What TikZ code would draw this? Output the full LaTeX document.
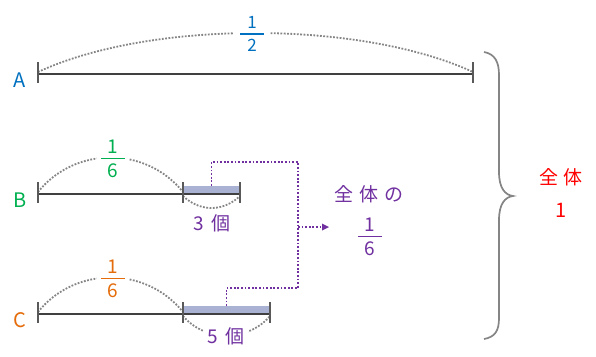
\documentclass[tikz,border=0pt]{standalone}
\usepackage{fontspec}
\setmainfont{Noto Sans CJK JP}
\usetikzlibrary{arrows.meta}
\definecolor{cblue}{HTML}{0070C0}
\definecolor{cgreen}{HTML}{00B050}
\definecolor{corange}{HTML}{E46C0A}
\definecolor{cpurple}{HTML}{7030A0}
\definecolor{cred}{HTML}{FF0000}
\definecolor{cline}{HTML}{404040}
\definecolor{ctick}{HTML}{595959}
\definecolor{carc}{HTML}{858585}
\definecolor{cbox}{HTML}{A9B2D2}
\newcommand\frc[2]{\vbox{\hbox to 24pt{\hss#1\hss}\kern4pt\hrule height1.8pt\kern4.5pt\hbox to 24pt{\hss#2\hss}}}
\tikzset{
  seg/.style={draw=cline, line width=1.7pt},
  tick/.style={draw=ctick, line width=1.7pt},
  arcdot/.style={draw=carc, line width=1.8pt, dash pattern=on 1.8pt off 1.5pt},
  pdot/.style={draw=cpurple, line width=1.8pt, dash pattern=on 1.8pt off 1.8pt},
  shade/.style={fill=cbox, draw=none, inner sep=0pt, minimum height=8pt},
  lbl/.style={font=\fontsize{20}{22}\selectfont, inner sep=1pt, anchor=base},
  cjk/.style={font=\fontsize{19}{22}\selectfont, inner sep=1pt, anchor=base},
  fracnode/.style={font=\fontsize{19}{22}\selectfont, inner sep=2pt, fill=white},
}
\begin{document}
\begin{tikzpicture}[x=1pt,y=-1pt]
\useasboundingbox (0,0) rectangle (596,356);
% coordinates
\coordinate (a0) at (38,74); \coordinate (a1) at (473,74);
\coordinate (b0) at (38,194); \coordinate (bm) at (183,194); \coordinate (b1) at (240,194);
\coordinate (c0) at (38,314); \coordinate (cm) at (183,314); \coordinate (c1) at (270,314);
% shaded boxes
\node[shade, minimum width=57pt] (bbox) at (211.5,190) {};
\node[shade, minimum width=87pt] (cbx) at (226.5,310) {};
% arcs
\draw[arcdot] (38,72) .. controls (150,20) and (360,20) .. (473,72);
\draw[arcdot] (38,192) .. controls (75,146) and (146,146) .. (183,192);
\draw[arcdot] (183,196) .. controls (200,212) and (223,212) .. (240,196);
\draw[arcdot] (38,312) .. controls (75,266) and (146,266) .. (183,312);
\draw[arcdot] (183,316) .. controls (205,342) and (248,342) .. (270,316);
% main segments
\draw[seg] (a0) -- (a1);
\draw[seg] (b0) -- (b1);
\draw[seg] (c0) -- (c1);
\foreach \p in {a0,a1,b0,bm,b1,c0,cm,c1}{
  \draw[tick] ([yshift=-8.5pt]\p) -- ([yshift=12.5pt]\p);
}
% fractions
\node[fracnode, text=cblue, font=\fontsize{17}{20}\selectfont, inner xsep=6pt] (fa) at (252,34) {\frc{1}{2}};
\node[fracnode, text=cgreen, inner xsep=4pt] (fb) at (113,159) {\frc{1}{6}};
\node[fracnode, text=corange, inner xsep=4pt] (fc) at (113,279) {\frc{1}{6}};
% letters
\node[lbl, text=cblue] (la) at (20,87) {A};
\node[lbl, text=cgreen] (lb) at (20,207) {B};
\node[lbl, text=corange] (lc) at (20,327) {C};
% counts
\node[cjk, text=cpurple, fill=white] (n3) at (212,230) {3\hspace{7pt}個};
\node[cjk, text=cpurple, fill=white, inner xsep=4pt] (n5) at (226,343) {5\hspace{7pt}個};
% purple connectors
\coordinate (jb) at (298,162);
\coordinate (jc) at (298,288);
\coordinate (jm) at (298,227);
\coordinate (tip) at (329,227);
\draw[pdot] (bbox.north) |- (jb) -- (jc) -| (cbx.north);
\draw[pdot, -{Triangle[length=7pt,width=7pt,line width=0pt]}] (jm) -- (tip);
% result
\node[cjk, text=cpurple] (zen) at (369,201) {全\hspace{6pt}体\hspace{6pt}の};
\node[fracnode, text=cpurple] (f6) at (370,237) {\frc{1}{6}};
% brace
\draw[draw=carc, line width=1.7pt] (484,52) .. controls (495,54) and (499,62) .. (499,75) -- (499,172)
  .. controls (499,188) and (505,195) .. (513,196) .. controls (505,197) and (499,204) .. (499,220)
  -- (499,318) .. controls (499,331) and (495,337) .. (484,339);
\node[cjk, text=cred] (whole) at (561,184) {全\hspace{6pt}体};
\node[lbl, text=cred] (one) at (561,217) {1};
\end{tikzpicture}
\end{document}
